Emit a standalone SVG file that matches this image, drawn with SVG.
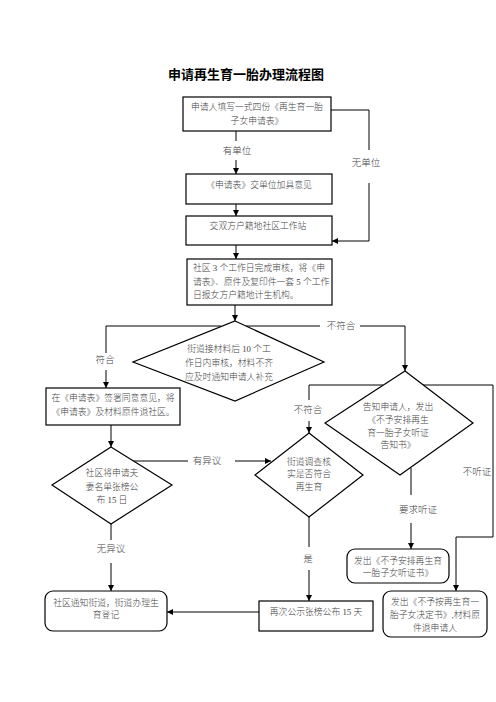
<svg xmlns="http://www.w3.org/2000/svg" width="496" height="702" viewBox="0 0 496 702">
<defs>
<marker id="arr" viewBox="0 0 10 10" refX="10" refY="5" markerWidth="6" markerHeight="6" orient="auto" markerUnits="userSpaceOnUse">
<path d="M0,0 L10,5 L0,10 z" fill="#000"/>
</marker>
<style>
.box{fill:#fff;stroke:#000;stroke-width:1.2}
.ln{fill:none;stroke:#000;stroke-width:1}
.ar{fill:none;stroke:#000;stroke-width:1;marker-end:url(#arr)}
.t{font-family:"Liberation Serif","Noto Sans CJK SC",serif;font-size:8.8px;font-weight:300;fill:#444;text-anchor:middle}
.l{font-family:"Liberation Serif","Noto Sans CJK SC",serif;font-size:9.5px;font-weight:300;fill:#444;text-anchor:middle}
.title{font-family:"Liberation Sans","Noto Sans CJK SC",sans-serif;font-size:13px;font-weight:bold;fill:#000;text-anchor:middle}
</style>
</defs>
<rect width="496" height="702" fill="#fff"/>
<text class="title" x="246" y="79">申请再生育一胎办理流程图</text>

<g id="connectors">
<path class="ln" d="M236,131 V141"/><path class="ar" d="M236,160 V174"/>
<path class="ar" d="M236,204 V216"/>
<path class="ln" d="M331,110 H369 V150"/><path class="ar" d="M369,183 V241 H332"/>
<path class="ar" d="M236,245 V259"/>
<path class="ar" d="M235,305 V321"/>
<path class="ln" d="M221,326 H106 V353"/><path class="ar" d="M106,370 V388"/>
<path class="ln" d="M246,326 H320"/><path class="ar" d="M360,326 H405 V371"/>
<path class="ar" d="M111,425 V447"/>
<path class="ln" d="M133,461 H188"/><path class="ar" d="M235,461 H271"/>
<path class="ln" d="M111,524 V540"/><path class="ar" d="M111,563 V591"/>
<path class="ln" d="M383,385 H309 V400"/><path class="ar" d="M309,421 V433"/>
<path class="ln" d="M423,385 H493 V537 H456"/><path class="ar" d="M456,537 V591"/>
<path class="ln" d="M411,468 V495"/><path class="ar" d="M411,523 V549"/>
<path class="ln" d="M309,517 V547"/><path class="ar" d="M309,570 V601"/>
<path class="ar" d="M259,612 H167"/>
<text class="l" x="237" y="154">有单位</text>
<text class="l" x="366" y="166">无单位</text>
<text class="l" x="105" y="363">符合</text>
<text class="l" x="341" y="329">不符合</text>
<text class="l" x="207" y="464">有异议</text>
<text class="l" x="111" y="552">无异议</text>
<text class="l" x="308" y="413">不符合</text>
<text class="l" x="477" y="475">不听证</text>
<text class="l" x="418" y="513">要求听证</text>
<text class="l" x="308" y="562">是</text>
</g>

<g id="n1"><rect class="box" x="183" y="97" width="148" height="34"/>
<text class="t" x="257" y="110">申请人填写一式四份《再生育一胎</text>
<text class="t" x="257" y="124">子女申请表》</text></g>

<g id="n2"><rect class="box" x="186" y="174" width="146" height="30"/>
<text class="t" x="259" y="188">《申请表》交单位加具意见</text></g>

<g id="n3"><rect class="box" x="186" y="216" width="146" height="29"/>
<text class="t" x="258" y="229">交双方户籍地社区工作站</text></g>

<g id="n4"><rect class="box" x="187" y="259" width="145" height="46"/>
<text class="t" x="193" y="271" style="text-anchor:start">社区 3 个工作日完成审核，将《申</text>
<text class="t" x="193" y="285" style="text-anchor:start">请表》、原件及复印件一套 5 个工作</text>
<text class="t" x="193" y="298" style="text-anchor:start">日报女方户籍地计生机构。</text></g>

<g id="n5"><polygon class="box" points="235,321 324,362 235,401 133,362"/>
<text class="t" x="229" y="352">街道接材料后 10 个工</text>
<text class="t" x="229" y="366">作日内审核，材料不齐</text>
<text class="t" x="229" y="380">应及时通知申请人补充</text></g>

<g id="n6"><rect class="box" x="46" y="388" width="134" height="37"/>
<text class="t" x="113" y="401">在《申请表》签署同意意见，将</text>
<text class="t" x="113" y="415">《申请表》及材料原件退社区。</text></g>

<g id="n7"><polygon class="box" points="405,371 473,423 400,475 325,423"/>
<text class="t" x="398" y="410">告知申请人，发出</text>
<text class="t" x="398" y="423">《不予安排再生</text>
<text class="t" x="398" y="436">育一胎子女听证</text>
<text class="t" x="398" y="448">告知书》</text></g>

<g id="n8"><polygon class="box" points="111,447 172,485 111,524 52,485"/>
<text class="t" x="112" y="476">社区将申请夫</text>
<text class="t" x="112" y="490">妻名单张榜公</text>
<text class="t" x="112" y="503">布 15 日</text></g>

<g id="n9"><polygon class="box" points="309,433 363,475 309,517 255,475"/>
<text class="t" x="309" y="465">街道调查核</text>
<text class="t" x="309" y="477">实是否符合</text>
<text class="t" x="309" y="490">再生育</text></g>

<g id="n10"><rect class="box" x="347" y="549" width="102" height="34" rx="8"/>
<text class="t" x="398" y="564">发出《不予安排再生育</text>
<text class="t" x="398" y="576">一胎子女听证书》</text></g>

<g id="n11"><rect class="box" x="383" y="591" width="104" height="46" rx="8"/>
<text class="t" x="435" y="605">发出《不予按再生育一</text>
<text class="t" x="435" y="618">胎子女决定书》,材料原</text>
<text class="t" x="435" y="631">件退申请人</text></g>

<g id="n12"><rect class="box" x="259" y="601" width="114" height="30"/>
<text class="t" x="316" y="615">再次公示张榜公布 15 天</text></g>

<g id="n13"><rect class="box" x="45" y="591" width="122" height="40" rx="8"/>
<text class="t" x="106" y="606">社区通知街道，街道办理生</text>
<text class="t" x="106" y="618">育登记</text></g>
</svg>
